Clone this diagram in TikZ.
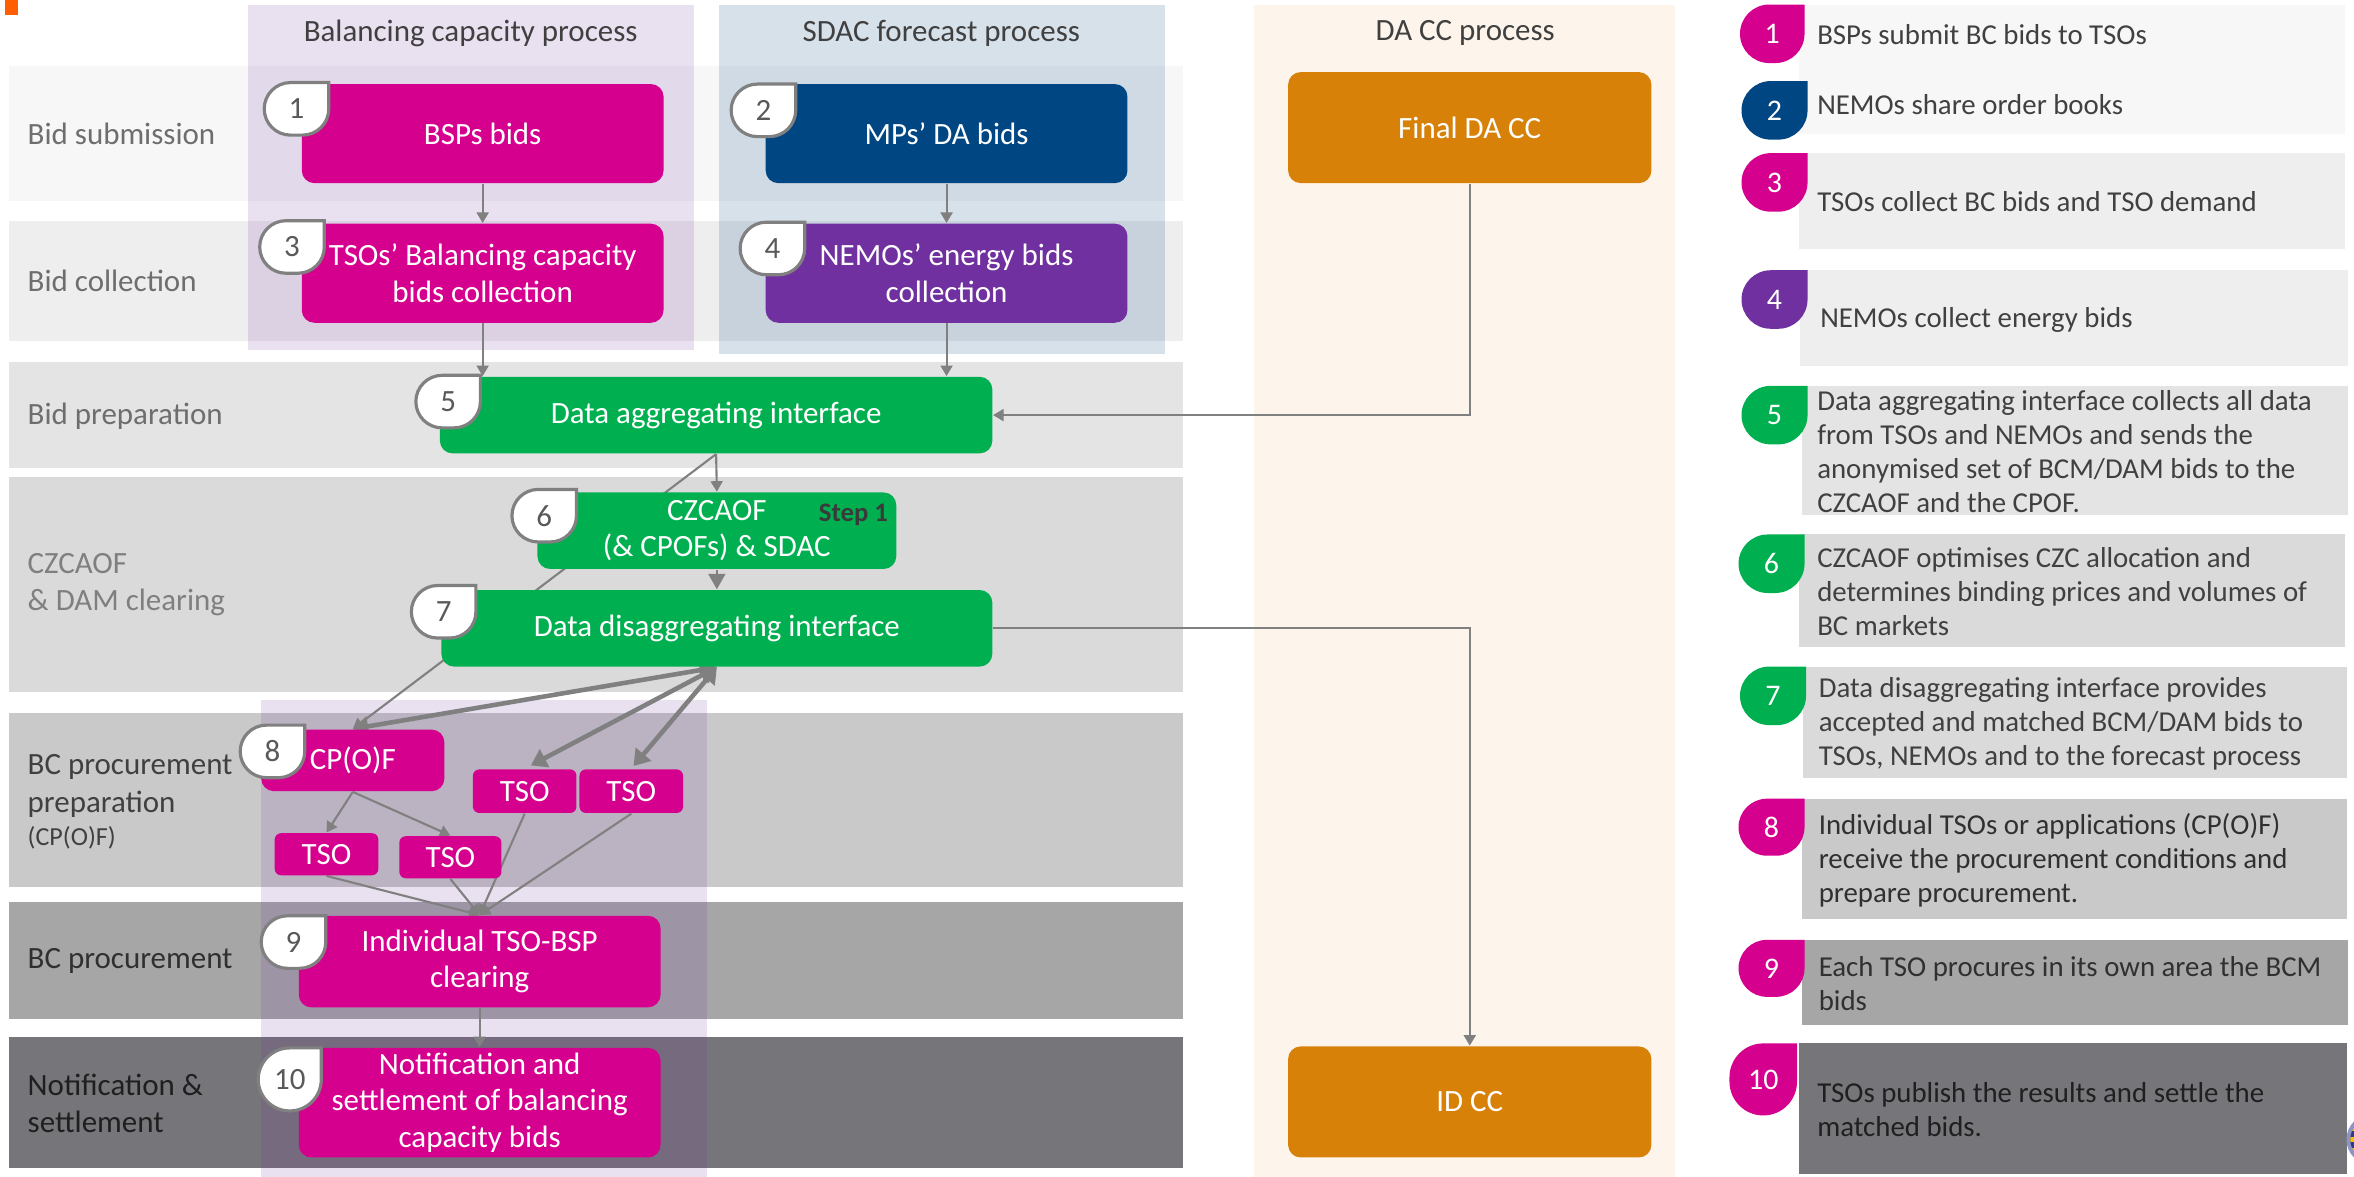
\documentclass[tikz,border=0pt]{standalone}
\usepackage{fontspec}
\setmainfont{Carlito}
\usetikzlibrary{arrows.meta,calc}
\pgfdeclarelayer{back}
\pgfdeclarelayer{links}
\pgfsetlayers{back,links,main}

\definecolor{cMag}{HTML}{D6008F}
\definecolor{cNavy}{HTML}{004682}
\definecolor{cPurp}{HTML}{7030A0}
\definecolor{cGreen}{HTML}{00B050}
\definecolor{cOrange}{HTML}{D78108}
\definecolor{cLine}{HTML}{808080}
\definecolor{cHead}{HTML}{404040}
\definecolor{cNum}{HTML}{595959}
\definecolor{cStep}{HTML}{3A3A3A}
\definecolor{cFlag}{HTML}{FF5F00}
\definecolor{bandA}{HTML}{F7F7F7}
\definecolor{bandB}{HTML}{EEEEEE}
\definecolor{bandC}{HTML}{E4E4E4}
\definecolor{bandD}{HTML}{DADADA}
\definecolor{bandE}{HTML}{C9C9C9}
\definecolor{bandF}{HTML}{A6A6A6}
\definecolor{bandG}{HTML}{767579}
\definecolor{cPeach}{HTML}{FDF5EB}
\definecolor{rowA}{HTML}{6E6E6E}
\definecolor{rowB}{HTML}{7F7F7F}
\definecolor{rowC}{HTML}{404040}
\definecolor{rowD}{HTML}{303030}
\definecolor{rowE}{HTML}{1F1F1F}
\definecolor{cLogo}{HTML}{2B3A8C}
\definecolor{cLogoRim}{HTML}{8C95C8}
\definecolor{cGold}{HTML}{F2C300}

% teardrop number badge: name, shape style, x0, y0, width, height, label, label style
\newcommand{\tearbadge}[8]{%
  \pgfmathsetmacro{\tbr}{min(#5,#6)/2}
  \path[#2] (#3+#5,#4) -- (#3+\tbr,#4)
    arc[start angle=270,end angle=180,radius=\tbr]
    -- (#3,#4+#6-\tbr)
    arc[start angle=180,end angle=90,radius=\tbr]
    -- (#3+#5-\tbr,#4+#6)
    arc[start angle=90,end angle=0,radius=\tbr] -- cycle;
  \node[#8] (#1) at (#3+#5/2,#4+#6/2) {#7};
}

\begin{document}
\begin{tikzpicture}[x=0.015cm,y=-0.015cm,
  every node/.style={font=\fontsize{8.8}{10.4}\selectfont},
  sz/.style 2 args={minimum width=#1*0.015cm,minimum height=#2*0.015cm},
  proc/.style={rounded corners=3.6pt,inner sep=0pt,text=white,align=center},
  tso/.style={proc,rounded corners=1.8pt,fill=cMag},
  rowlab/.style={anchor=west,align=left,inner sep=0pt,font=\fontsize{8.8}{10.6}\selectfont},
  head/.style={text=cHead,inner sep=0pt},
  flow/.style={draw=cLine,line width=0.6pt,-{Triangle[width=3.4pt,length=3pt]}},
  heavy/.style={draw=cLine,line width=1.3pt,{Triangle[width=5.6pt,length=4.4pt]}-{Triangle[width=5.6pt,length=4.4pt]}},
  legtxt/.style={anchor=west,align=left,inner sep=0pt,text=cHead,font=\fontsize{8.2}{9.7}\selectfont},
  ringw/.style={fill=white,draw=cLine,line width=0.9pt},
  numw/.style={text=cNum,inner sep=0pt},
  numc/.style={text=white,inner sep=0pt,font=\fontsize{8.5}{10}\selectfont},
]
\useasboundingbox (0,0) rectangle (1568,784);

% ---------- background bands and process columns ----------
\begin{pgfonlayer}{back}
  \fill[white] (0,0) rectangle (1568,784);
  \fill[cFlag] (3,0) rectangle (12,10);
  \fill[bandA] (6,44) rectangle (788,134);
  \fill[bandB] (6,147) rectangle (788,227);
  \fill[bandC] (6,241) rectangle (788,312);
  \fill[bandD] (6,318) rectangle (788,461);
  \fill[bandE] (6,475) rectangle (788,591);
  \fill[bandF] (6,601) rectangle (788,679);
  \fill[bandG] (6,691) rectangle (788,778);
  \fill[cPurp,fill opacity=0.15] (165,3) rectangle (462,233);
  \fill[cPurp,fill opacity=0.15] (174,466) rectangle (471,784);
  \fill[cNavy,fill opacity=0.16] (479,3) rectangle (776,236);
  \fill[cPeach] (835,3) rectangle (1116,784);
  % legend panels
  \fill[bandA] (1198,3) rectangle (1562,89);
  \fill[bandB] (1198,102) rectangle (1562,166);
  \fill[bandB] (1199,180) rectangle (1564,244);
  \fill[bandC] (1200,257) rectangle (1564,343);
  \fill[bandD] (1198,356) rectangle (1562,431);
  \fill[bandD] (1201,444) rectangle (1563,518);
  \fill[bandE] (1200,532) rectangle (1563,612);
  \fill[bandF] (1200,626) rectangle (1564,683);
  \fill[bandG] (1198,695) rectangle (1563,782);
\end{pgfonlayer}

% ---------- column headings ----------
\node[head] (hBC) at (313.5,22) {Balancing capacity process};
\node[head] (hSD) at (627,22) {SDAC forecast process};
\node[head] (hDA) at (976,22) {DA CC process};

% ---------- row labels ----------
\node[rowlab,text=rowA] (r1) at (18,89) {Bid submission};
\node[rowlab,text=rowA] (r2) at (18,187) {Bid collection};
\node[rowlab,text=rowA] (r3) at (18,277) {Bid preparation};
\node[rowlab,text=rowB] (r4) at (18,389.5) {CZCAOF\\\& DAM clearing};
\node[rowlab,text=rowC] (r5) at (18,523.5) {BC procurement\\preparation};
\node[rowlab,text=rowC,font=\fontsize{7.4}{9}\selectfont] (r5b) at (18,558) {(CP(O)F)};
\node[rowlab,text=rowD] (r6) at (18,640) {BC procurement};
\node[rowlab,text=rowE] (r7) at (18,735) {Notification \&\\settlement};

% ---------- process boxes ----------
\node[proc,sz={241}{66},fill=cMag] (b1) at (321.5,89) {BSPs bids};
\node[proc,sz={241}{66},fill=cMag] (b3) at (321.5,182) {TSOs’ Balancing capacity\\bids collection};
\node[proc,sz={241}{66},fill=cNavy] (b2) at (630.5,89) {MPs’ DA bids};
\node[proc,sz={241}{66},fill=cPurp] (b4) at (630.5,182) {NEMOs’ energy bids\\collection};
\node[proc,sz={242}{74},fill=cOrange] (fda) at (979,85) {Final DA CC};
\node[proc,sz={368}{51},fill=cGreen] (b5) at (477,276.5) {Data aggregating interface};
\node[proc,sz={239}{51},fill=cGreen] (b6) at (477.5,353.5) {CZCAOF\\(\& CPOFs) \& SDAC};
\node[text=cStep,inner sep=0pt,font=\bfseries\fontsize{7.6}{9}\selectfont] (step) at (568.5,343) {Step 1};
\node[proc,sz={367}{51},fill=cGreen] (b7) at (477.5,418.5) {Data disaggregating interface};
\node[proc,sz={122}{41},fill=cMag] (cpof) at (235,506.5) {CP(O)F};
\node[tso,sz={69}{29}] (tsoa) at (349.5,527) {TSO};
\node[tso,sz={69}{29}] (tsob) at (420.5,527) {TSO};
\node[tso,sz={69}{28}] (tsoc) at (217.5,569) {TSO};
\node[tso,sz={68}{28}] (tsod) at (300,571) {TSO};
\node[proc,sz={241}{61},fill=cMag] (b9) at (319.5,640.5) {Individual TSO-BSP\\clearing};
\node[proc,sz={241}{73},fill=cMag] (b10) at (319.5,734.5) {Notification and\\settlement of balancing\\capacity bids};
\node[proc,sz={242}{74},fill=cOrange] (idcc) at (979,734) {ID CC};

% ---------- step badges on the boxes ----------
\tearbadge{n1}{ringw}{176}{55}{43}{35}{1}{numw}
\tearbadge{n2}{ringw}{487}{56}{43}{35}{2}{numw}
\tearbadge{n3}{ringw}{173}{147}{43}{35}{3}{numw}
\tearbadge{n4}{ringw}{493}{148}{43}{35}{4}{numw}
\tearbadge{n5}{ringw}{277}{250}{43}{35}{5}{numw}
\tearbadge{n6}{ringw}{341}{326}{43}{35}{6}{numw}
\tearbadge{n7}{ringw}{274}{390}{43}{35}{7}{numw}
\tearbadge{n8}{ringw}{160}{483}{43}{35}{8}{numw}
\tearbadge{n9}{ringw}{174}{610}{43}{35}{9}{numw}
\tearbadge{n10}{ringw}{172}{698}{42}{42}{10}{numw}

% ---------- connectors ----------
\begin{pgfonlayer}{links}
  \draw[flow] (b1.south) -- (b3.north);
  \draw[flow] (b2.south) -- (b4.north);
  \draw[flow] (b3.south) -- (b3.south |- b5.north);
  \draw[flow] (b4.south) -- (b4.south |- b5.north);
  \draw[flow] (fda.south) |- (b5.east);
  \draw[flow] (b5.south) -- (b6.north);
  \draw[flow] (b5.south) -- (cpof.north);
  \draw[draw=cLine,line width=0.6pt,-{Triangle[width=4.8pt,length=4.4pt]}] (b6.south) -- (b7.north);
  \draw[flow] (b7.east) -| (idcc.north);
  \draw[heavy] (b7.south) -- (cpof.north);
  \draw[heavy,shorten >=2pt] (b7.south) -- (tsoa.north);
  \draw[heavy,shorten >=1pt] (b7.south) -- (tsob.north);
  \draw[flow] (cpof.south) -- (tsoc.north);
  \draw[flow] (cpof.south) -- (tsod.north);
  \draw[flow] (tsoc.south) -- (b9.north);
  \draw[flow] (tsod.south) -- (b9.north);
  \draw[flow] (tsoa.south) -- (b9.north);
  \draw[flow] (tsob.south) -- (b9.north);
  \draw[flow] (b9.south) -- (b10.north);
\end{pgfonlayer}

% ---------- legend ----------
\tearbadge{l1}{fill=cMag}{1159}{3}{43}{39}{1}{numc}
\tearbadge{l2}{fill=cNavy}{1160}{54}{44}{39}{2}{numc}
\tearbadge{l3}{fill=cMag}{1160}{102}{44}{39}{3}{numc}
\tearbadge{l4}{fill=cPurp}{1160}{180}{44}{39}{4}{numc}
\tearbadge{l5}{fill=cGreen}{1160}{257}{44}{39}{5}{numc}
\tearbadge{l6}{fill=cGreen}{1158}{356}{44}{39}{6}{numc}
\tearbadge{l7}{fill=cGreen}{1159}{444}{44}{39}{7}{numc}
\tearbadge{l8}{fill=cMag}{1158}{532}{44}{38}{8}{numc}
\tearbadge{l9}{fill=cMag}{1158}{626}{44}{38}{9}{numc}
\tearbadge{l10}{fill=cMag}{1152}{695}{45}{48}{10}{numc}

\node[legtxt] (t1) at (1210,23) {BSPs submit BC bids to TSOs};
\node[legtxt] (t2) at (1210,70) {NEMOs share order books};
\node[legtxt] (t3) at (1210,134) {TSOs collect BC bids and TSO demand};
\node[legtxt] (t4) at (1212,213) {NEMOs collect energy bids};
\node[legtxt] (t5) at (1210,301) {Data aggregating interface collects all data\\from TSOs and NEMOs and sends the\\anonymised set of BCM/DAM bids to the\\CZCAOF and the CPOF.};
\node[legtxt] (t6) at (1210,394) {CZCAOF optimises CZC allocation and\\determines binding prices and volumes of\\BC markets};
\node[legtxt] (t7) at (1211,482) {Data disaggregating interface provides\\accepted and matched BCM/DAM bids to\\TSOs, NEMOs and to the forecast process};
\node[legtxt,text=rowD] (t8) at (1211,573) {Individual TSOs or applications (CP(O)F)\\receive the procurement conditions and\\prepare procurement.};
\node[legtxt,text=rowD] (t9) at (1211,655) {Each TSO procures in its own area the BCM\\bids};
\node[legtxt,text=rowE] (t10) at (1210,739) {TSOs publish the results and settle the\\matched bids.};

% ---------- logo at the right edge ----------
\begin{scope}
  \clip (0,0) rectangle (1568,784);
  \fill[cLogoRim] (1580,759) circle[radius=17];
  \fill[cLogo] (1580,759) circle[radius=14.5];
  \begin{scope}
    \clip (1580,759) circle[radius=14.5];
    \draw[cGold,line width=1.3pt] (1560,752) -- (1600,752) (1560,759) -- (1600,759) (1560,766) -- (1600,766);
  \end{scope}
\end{scope}
\end{tikzpicture}
\end{document}
